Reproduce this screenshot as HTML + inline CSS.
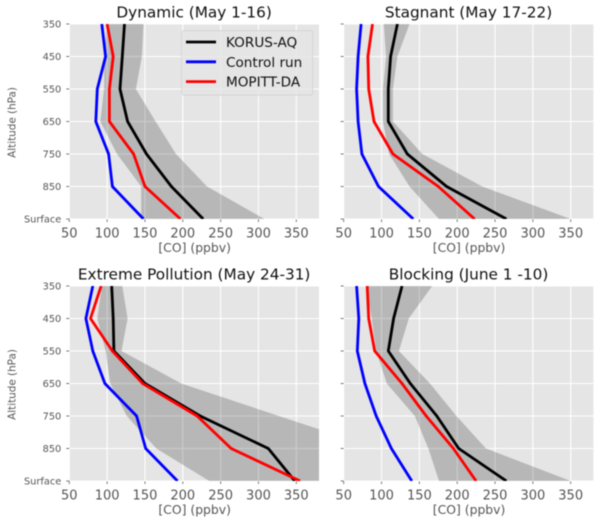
<!DOCTYPE html>
<html>
<head>
<meta charset="utf-8">
<title>CO vertical profiles</title>
<style>
html,body{margin:0;padding:0;background:#fff;}
svg{display:block;filter:blur(0.4px);font-family:"DejaVu Sans","Liberation Sans",sans-serif;}
</style>
</head>
<body>
<svg id="chart" width="600" height="524" viewBox="0 0 600 524" xmlns="http://www.w3.org/2000/svg"></svg>
<script>
const levelLabels = ['350','450','550','650','750','850','Surface'];
const xTickValues = [50,100,150,200,250,300,350];

const dynamicTitle = 'Dynamic (May 1-16)';
const dynamicKorus = [123,120,117,127,152,185,227];
const dynamicControl = [93,98,87,85,102,107,148];
const dynamicMopitt = [100,108,103,103,135,150,197];
const dynamicUpper = [148,146,138,164,191,232,308];
const dynamicLower = [100,96,96,91,113,145,145];

const stagnantTitle = 'Stagnant (May 17-22)';
const stagnantKorus = [121,112,109,109,134,186,265];
const stagnantControl = [73,69,67,69,74,96,142];
const stagnantMopitt = [88,82,83,90,115,175,223];
const stagnantUpper = [137,121,115,115,154,233,350];
const stagnantLower = [103,106,102,102,110,137,176];

const extremeTitle = 'Extreme Pollution (May 24-31)';
const extremeKorus = [106,108,109,150,223,313,348];
const extremeControl = [81,72,81,97,139,151,193];
const extremeMopitt = [92,78,107,147,219,264,355];
const extremeUpper = [120,127,119,198,327,457,560];
const extremeLower = [93,87,98,104,126,165,235];

const blockingTitle = 'Blocking (June 1 -10)';
const blockingKorus = [127,116,109,138,173,202,265];
const blockingControl = [67,70,68,78,93,113,140];
const blockingMopitt = [81,83,91,127,159,195,225];
const blockingUpper = [167,136,123,164,199,238,350];
const blockingLower = [80,87,93,107,144,162,176];

const legendLabels = ['KORUS-AQ','Control run','MOPITT-DA'];
const seriesColors = ['#000000','#0000ff','#ff0000'];

const NS = 'http://www.w3.org/2000/svg';
const svg = document.getElementById('chart');
const X_MIN = 50, X_MAX = 380;
const PLOT_W = 249.7, PLOT_H = 195;

function make(tag, parent, props, text) {
  const el = document.createElementNS(NS, tag);
  for (const k in props) el.setAttribute(k, props[k]);
  if (text !== undefined) el.textContent = text;
  parent.appendChild(el);
  return el;
}

function drawPanel(idx, left, top, title, korus, control, mopitt, upper, lower, showY, showLegend) {
  const xScale = v => left + (v - X_MIN) / (X_MAX - X_MIN) * PLOT_W;
  const yScale = i => top + i / (levelLabels.length - 1) * PLOT_H;

  const g = make('g', svg, {});
  
  

  const clip = make('clipPath', g, {id: 'clip' + idx});
  make('rect', clip, {x: left, y: top, width: PLOT_W, height: PLOT_H});

  const bg = make('rect', g, {x: left, y: top, width: PLOT_W, height: PLOT_H, fill: '#e5e5e5'});
  
  

  xTickValues.forEach(v => {
    const x = xScale(v);
    const grid = make('line', g, {x1: x, x2: x, y1: top, y2: top + PLOT_H, stroke: '#fff', 'stroke-width': 1.1});
    
    
    const tick = make('line', g, {x1: x, x2: x, y1: top + PLOT_H, y2: top + PLOT_H + 3, stroke: '#555', 'stroke-width': 0.8});
    
    
    const label = make('text', g, {x: x, y: top + PLOT_H + 18.5, 'text-anchor': 'middle', 'font-size': 13, fill: '#555'}, String(v));
    
    
  });

  levelLabels.forEach((lab, i) => {
    const y = yScale(i);
    const grid = make('line', g, {x1: left, x2: left + PLOT_W, y1: y, y2: y, stroke: '#fff', 'stroke-width': 1.1});
    
    
    const tick = make('line', g, {x1: left - 3, x2: left, y1: y, y2: y, stroke: '#555', 'stroke-width': 0.8});
    
    
    if (showY) {
      const label = make('text', g, {x: left - 8, y: y + 3.5, 'text-anchor': 'end', 'font-size': 9.8, fill: '#555'}, lab);
      
      
    }
  });

  const plot = make('g', g, {'clip-path': 'url(#clip' + idx + ')'});
  const upperPts = upper.map((v, i) => xScale(v).toFixed(1) + ',' + yScale(i).toFixed(1));
  const lowerPts = lower.map((v, i) => xScale(v).toFixed(1) + ',' + yScale(i).toFixed(1)).reverse();
  const band = make('polygon', plot, {points: upperPts.concat(lowerPts).join(' '), fill: '#000', 'fill-opacity': 0.2});
  
  

  [korus, control, mopitt].forEach((values, s) => {
    const pts = values.map((v, i) => xScale(v).toFixed(1) + ',' + yScale(i).toFixed(1)).join(' ');
    const line = make('polyline', plot, {points: pts, fill: 'none', stroke: seriesColors[s], 'stroke-width': 2.8, 'stroke-linejoin': 'round'});
    
    
  });

  const titleEl = make('text', g, {x: left + PLOT_W / 2, y: top - 6.5, 'text-anchor': 'middle', 'font-size': 15.3, fill: '#111'}, title);
  
  

  const xTitle = make('text', g, {x: left + PLOT_W / 2 + 0.5, y: top + PLOT_H + 33, 'text-anchor': 'middle', 'font-size': 12.4, fill: '#555'}, '[CO] (ppbv)');
  
  

  if (showY) {
    const cy = top + 98.5;
    const yTitle = make('text', g, {x: 15.5, y: cy, 'text-anchor': 'middle', 'font-size': 10.4, fill: '#555', transform: 'rotate(-90 15.5 ' + cy + ')'}, 'Altitude (hPa)');
    
    
  }

  if (showLegend) {
    const leg = make('g', g, {});
    
    
    make('rect', leg, {x: 181.7, y: 30.7, width: 131, height: 64.5, rx: 2, fill: '#e5e5e5', 'fill-opacity': 0.8, stroke: '#cccccc', 'stroke-opacity': 0.8, 'stroke-width': 0.8});
    legendLabels.forEach((lab, i) => {
      const rowY = 42 + i * 19.8;
      const swatch = make('line', leg, {x1: 186, x2: 216, y1: rowY, y2: rowY, stroke: seriesColors[i], 'stroke-width': 2.8});
      
      
      const text = make('text', leg, {x: 226, y: rowY + 5, 'font-size': 13.6, fill: '#111'}, lab);
      
      
    });
  }
}

drawPanel(0, 69.3, 24, dynamicTitle, dynamicKorus, dynamicControl, dynamicMopitt, dynamicUpper, dynamicLower, true, true);
drawPanel(1, 343.7, 24, stagnantTitle, stagnantKorus, stagnantControl, stagnantMopitt, stagnantUpper, stagnantLower, false, false);
drawPanel(2, 69.3, 286, extremeTitle, extremeKorus, extremeControl, extremeMopitt, extremeUpper, extremeLower, true, false);
drawPanel(3, 343.7, 286, blockingTitle, blockingKorus, blockingControl, blockingMopitt, blockingUpper, blockingLower, false, false);
</script>
</body>
</html>
